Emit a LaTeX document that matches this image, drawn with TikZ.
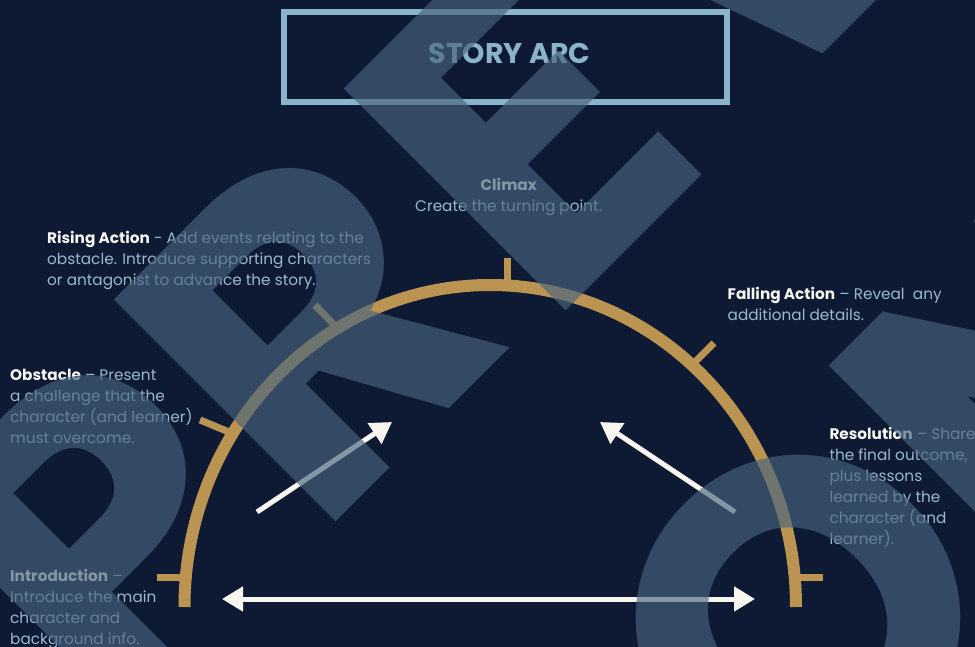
\documentclass[tikz,border=0pt]{standalone}
\usepackage{fontspec}
\setmainfont{Poppins}
\usetikzlibrary{arrows.meta}
\definecolor{bg}{HTML}{0E1934}
\definecolor{gold}{HTML}{BC9452}
\definecolor{steel}{HTML}{8AB4C9}
\definecolor{desc}{HTML}{9CB9CC}
\definecolor{cream}{HTML}{F8F6EE}
\definecolor{label}{HTML}{F7F6F0}
\definecolor{wm}{HTML}{48647E}
\begin{document}
\begin{tikzpicture}[x=1pt,y=-1pt,
  >={Triangle[length=21pt,width=24pt]},
  txt/.style={inner sep=0pt, anchor=base west, align=left, text=desc, font=\fontsize{15.3}{21}\selectfont},
  tick/.style={draw=gold, line width=7pt},
  arr/.style={draw=cream, line width=5pt},
  wmark/.style={inner sep=0pt, rotate=45, text=wm, text opacity=0.65, font=\fontsize{447}{447}\selectfont\bfseries}]
\useasboundingbox (0,0) rectangle (975,647);
\clip (0,0) rectangle (975,647);
\fill[bg] (0,0) rectangle (975,647);
% title
\node[draw=steel, line width=6pt, minimum width=443pt, minimum height=90pt, inner sep=0pt] (titlebox) at (505.5,57) {};
\node[inner sep=0pt, anchor=base, text=steel, font=\fontsize{28.5}{30}\selectfont\bfseries] (title) at (509.5,64) {STORY ARC};
% arc
\draw[gold, line width=12pt] (184.5,607) arc[start angle=180, end angle=0, x radius=305.75pt, y radius=322pt];
% ticks
\draw[tick] (507,258) -- (507,287);
\draw[tick] (315,305) -- (337,328);
\draw[tick] (200,420) -- (229,432);
\draw[tick] (157,577) -- (185,577);
\draw[tick] (714,343) -- (691,366);
\draw[tick] (823,577) -- (795,577);
% texts (multi-line nodes: base = last line's baseline)
\node[txt, anchor=base] (climaxlbl) at (508.7,190.7) {\textcolor{label}{\bfseries Climax}};
\node[txt, anchor=base] (climaxtxt) at (508.6,211.7) {Create the turning point.};
\node[txt] (rising) at (47,285.3) {\textcolor{label}{\bfseries Rising Action} - Add events relating to the\\obstacle. Introduce supporting characters\\or antagonist to advance the story.};
\node[txt] (falling) at (727.5,320.3) {\textcolor{label}{\bfseries Falling Action} – Reveal\ \ any\\additional details.};
\node[txt] (obstacle) at (10,443.7) {\textcolor{label}{\bfseries Obstacle} – Present\\a challenge that the\\character (and learner)\\must overcome.};
\node[txt] (resolution) at (829.3,544.3) {\textcolor{label}{\bfseries Resolution} – Share\\the final outcome,\\plus lessons\\learned by the\\character (and\\learner).};
\node[txt] (intro) at (10,644.7) {\textcolor{label}{\bfseries Introduction} –\\Introduce the main\\character and\\background info.};
% arrows
\coordinate (bl) at (222,599);
\coordinate (br) at (755,599);
\coordinate (lt) at (257,512);
\coordinate (lh) at (392,422);
\coordinate (rt) at (735,512);
\coordinate (rh) at (600,422);
\draw[arr, <->] (bl) -- (br);
\draw[arr, ->] (lt) -- (lh);
\draw[arr, ->] (rt) -- (rh);
% watermark
\node[wmark, anchor=base west] (wmP) at (118,746) {P};
\node[wmark, anchor=base west] (wmR) at (316,542) {R};
\node[wmark, anchor=base west] (wmE) at (546.0,330.9) {E};
\node[wmark, anchor=base] (wmV) at (857,20) {V};
\node[wmark, anchor=base] (wmO) at (909.6,729.5) {O};
\node[wmark, anchor=base west] (wmN) at (1031.1,608.0) {N};
\end{tikzpicture}
\end{document}
